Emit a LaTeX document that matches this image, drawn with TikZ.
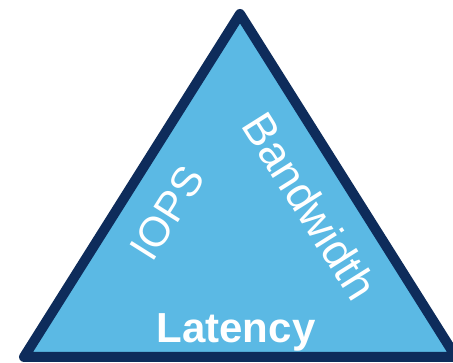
\documentclass[tikz,border=0pt]{standalone}
\usepackage{fontspec}
\setmainfont{Liberation Sans}
\usepackage{xcolor}
\usetikzlibrary{positioning}
\definecolor{Navy}{HTML}{0E2C5B}
\definecolor{Sky}{HTML}{5BB9E4}

\begin{document}
\begin{tikzpicture}[x=1pt, y=1pt,
    side/.style={text=white, font=\fontsize{42}{42}\selectfont, inner sep=0pt},
    base/.style={text=white, font=\fontsize{42}{42}\selectfont\bfseries, inner sep=0pt, anchor=base}
  ]
    \useasboundingbox (0,0) rectangle (453,363);
    \clip (0,0) rectangle (453,363);
    % the triangle
    \coordinate (top) at (240,349);
    \coordinate (bl) at (24,6);
    \coordinate (br) at (456,6);
    \draw[draw=Navy, fill=Sky, line width=10pt, line join=round] (top) -- (br) -- (bl) -- cycle;
    % labels on the three sides
    \node[side, rotate=57.8] (iops) at (167,150) {IOPS};
    \node[side, rotate=-57.8, font=\fontsize{45}{45}\selectfont] (bw) at (310,157) {Bandwidth};
    \node[base] (lat) at (236,20) {Latency};
\end{tikzpicture}
\end{document}
